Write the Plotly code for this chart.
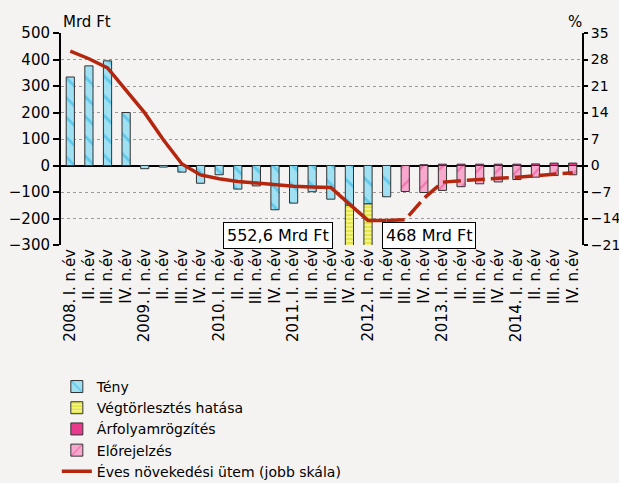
import plotly.graph_objects as go

quarters = ["I. n.év", "II. n.év", "III. n.év", "IV. n.év"] * 7
years = ["2008.", "2009.", "2010.", "2011.", "2012.", "2013.", "2014."]

teny = [334, 376, 395, 200, -12, -6, -25, -67, -35, -89, -77, -167, -142, -99, -127, -150, -145, -118,
        None, None, None, None, None, None, None, None, None, None]
vegtorl = [None] * 15 + [-552.6, -468] + [None] * 11
arfoly = [None] * 19 + [3, 5, 5, 5, 5, 5, 6, 9, 9]
elore = [None] * 18 + [-98, -102, -94, -80, -69, -62, -53, -44, -38, -35]
growth = [30.2, 28.2, 25.8, 20.0, 13.9, 6.8, 0.4, -2.5, -3.5, -4.2, -4.7, -5.2, -5.5, -5.7,
          -5.8, -10.2, -14.5, -14.5, -14.3, -8.7, -4.4, -4.0, -3.6, -3.4, -3.1, -2.7, -2.2, -1.9]
split = 17  # last actual quarter of growth line

x = list(range(len(quarters)))
FONT = "DejaVu Sans"
FS = 15
edge = dict(color="#333333", width=1)

fig = go.Figure()
fig.add_bar(x=x, y=teny, name="Tény",
            marker=dict(color="#a0e0f3", line=edge,
                        pattern=dict(shape="\\", fgcolor="#1fb0e0", bgcolor="#a0e0f3", size=14, solidity=0.2)))
fig.add_bar(x=x, y=vegtorl, name="Végtörlesztés hatása",
            marker=dict(color="#f3f38a", line=edge,
                        pattern=dict(shape="-", fgcolor="#d5da00", bgcolor="#f3f38a", size=4, solidity=0.5)))
fig.add_bar(x=x, y=arfoly, name="Árfolyamrögzítés",
            marker=dict(color="#e8398d", line=edge))
fig.add_bar(x=x, y=elore, name="Előrejelzés",
            marker=dict(color="#f7a8cc", line=edge,
                        pattern=dict(shape="/", fgcolor="#e63c8e", bgcolor="#f7a8cc", size=14, solidity=0.15)))
fig.add_scatter(x=x[:split + 1], y=growth[:split + 1], yaxis="y2", mode="lines",
                name="Éves növekedési ütem (jobb skála)",
                line=dict(color="#b5260f", width=3.5))
fig.add_scatter(x=x[split:], y=growth[split:], yaxis="y2", mode="lines", showlegend=False,
                line=dict(color="#b5260f", width=3.5, dash="18px,6px"))

year_ann = [dict(x=i * 4, y=-0.245, xref="x", yref="paper", text=yr, showarrow=False,
                 textangle=-90, xanchor="center", yanchor="top",
                 font=dict(family=FONT, size=FS, color="black")) for i, yr in enumerate(years)]

box_ann = [
    dict(x=11.17, y=-266, xref="x", yref="y", text="552,6 Mrd Ft", showarrow=False,
         bgcolor="white", bordercolor="black", borderwidth=1, borderpad=3,
         font=dict(family=FONT, size=16, color="black")),
    dict(x=19.3, y=-266, xref="x", yref="y", text="468 Mrd Ft", showarrow=False,
         bgcolor="white", bordercolor="black", borderwidth=1, borderpad=3,
         font=dict(family=FONT, size=16, color="black")),
]

unit_ann = [
    dict(x=0.0, y=1.052, xref="paper", yref="paper", text="Mrd Ft", showarrow=False,
         xanchor="left", yanchor="middle", font=dict(family=FONT, size=FS, color="black")),
    dict(x=0.987, y=1.052, xref="paper", yref="paper", text="%", showarrow=False,
         xanchor="center", yanchor="middle", font=dict(family=FONT, size=FS, color="black")),
]

fig.update_layout(
    width=619, height=483,
    margin=dict(l=61, r=37, t=33, b=238, autoexpand=False),
    paper_bgcolor="#f4f3f1", plot_bgcolor="#f4f3f1",
    barmode="relative", bargap=0.56,
    font=dict(family=FONT, size=FS, color="black"),
    showlegend=True,
    legend=dict(x=-0.008, y=-0.594, xanchor="left", yanchor="top", orientation="v",
                bgcolor="rgba(0,0,0,0)", font=dict(family=FONT, size=14, color="black"),
                tracegroupgap=0, itemwidth=30),
    xaxis=dict(range=[-0.5, 27.5], tickvals=x, ticktext=quarters, tickangle=-90,
               showgrid=False, zeroline=False, showline=False, ticks="", automargin=False,
               tickfont=dict(family=FONT, size=FS, color="black")),
    yaxis=dict(range=[-300, 500], dtick=100, showgrid=True, gridcolor="#9a9a9a",
               griddash="dot", gridwidth=1, zeroline=True, zerolinecolor="black",
               zerolinewidth=2, showline=True, linecolor="black", linewidth=2, automargin=False,
               ticks="outside", ticklen=6, tickwidth=2, tickcolor="black"),
    yaxis2=dict(range=[-21, 35], dtick=7, overlaying="y", side="right", showgrid=False,
                zeroline=False, showline=True, linecolor="black", linewidth=2, automargin=False,
                ticks="outside", ticklen=4, tickwidth=2, tickcolor="black",
                tickfont=dict(family=FONT, size=14, color="black")),
    annotations=year_ann + box_ann + unit_ann,
)

fig.write_html("out.html", config={"displayModeBar": False},
               post_script="document.body.style.margin='0';document.body.style.overflow='hidden';")
